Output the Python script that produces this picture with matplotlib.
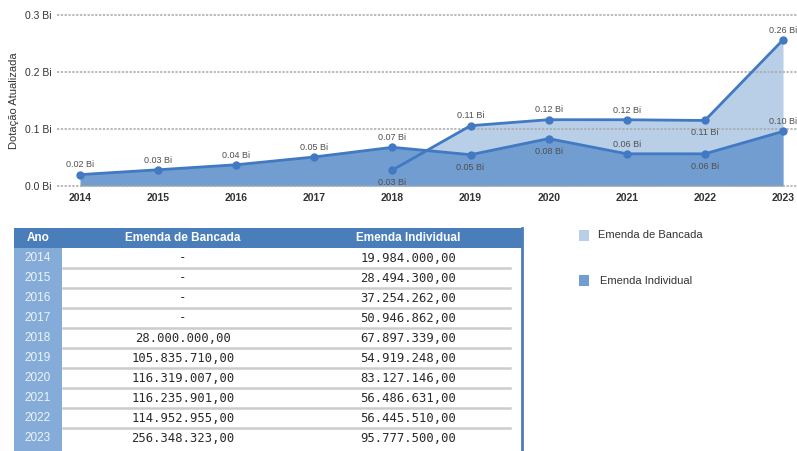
import numpy as np
import matplotlib.pyplot as plt
from matplotlib.patches import Rectangle

# ---- data ----
anos = [2014, 2015, 2016, 2017, 2018, 2019, 2020, 2021, 2022, 2023]
individual = [19984000.00, 28494300.00, 37254262.00, 50946862.00, 67897339.00,
              54919248.00, 83127146.00, 56486631.00, 56445510.00, 95777500.00]
bancada_anos = [2018, 2019, 2020, 2021, 2022, 2023]
bancada = [28000000.00, 105835710.00, 116319007.00, 116235901.00,
           114952955.00, 256348323.00]

# label placement (above / below the point)
pos_ind = ["a", "a", "a", "a", "a", "b", "b", "a", "b", "a"]
pos_ban = ["b", "a", "a", "a", "b", "a"]

def fmt_br(v):
    s = f"{v:,.2f}"
    return s.replace(",", "X").replace(".", ",").replace("X", ".")

LINE = "#4179c3"
FILL_IND = "#719dd0"
FILL_BAN = "#b9cfe8"
HEAD = "#4a7ebb"
YEARCOL = "#85acd8"

plt.rcParams['font.family'] = ['Liberation Sans Narrow', 'Liberation Sans', 'DejaVu Sans']

W, H = 797, 451
fig = plt.figure(figsize=(W / 100, H / 100), dpi=100)

# ---- area chart ----
ax = fig.add_axes([57 / W, 1 - 186 / H, 1 - 57 / W, (186 - 15) / H])
ind_bi = np.array(individual) / 1e9
ban_bi = np.array(bancada) / 1e9

ax.fill_between(bancada_anos, 0, ban_bi, color=FILL_BAN, lw=0, zorder=1)
ax.fill_between(anos, 0, ind_bi, color=FILL_IND, lw=0, zorder=2)
ax.plot(bancada_anos, ban_bi, color=LINE, lw=2, marker="o", ms=5, zorder=4)
ax.plot(anos, ind_bi, color=LINE, lw=2, marker="o", ms=5, zorder=4)

for x, v, p in zip(anos, ind_bi, pos_ind):
    dy = 7 if p == "a" else -9
    ax.annotate(f"{v:.2f} Bi", (x, v), xytext=(0, dy), textcoords="offset points",
                ha="center", va="center", fontsize=6.5, color="#505050", zorder=5)
for x, v, p in zip(bancada_anos, ban_bi, pos_ban):
    dy = 7 if p == "a" else -9
    ax.annotate(f"{v:.2f} Bi", (x, v), xytext=(0, dy), textcoords="offset points",
                ha="center", va="center", fontsize=6.5, color="#505050", zorder=5)

ax.set_xlim(2014 - 23 * 9 / 703, 2023 + 14 * 9 / 703)
ax.set_ylim(0, 0.3)
ax.set_yticks([0, 0.1, 0.2, 0.3])
ax.set_yticklabels(["0.0 Bi", "0.1 Bi", "0.2 Bi", "0.3 Bi"])
ax.set_xticks(anos)
ax.tick_params(length=0, labelsize=7.5, colors="#333333")
ax.tick_params(axis="x", pad=5)
ax.tick_params(axis="y", pad=4)
for lab in ax.get_xticklabels():
    lab.set_fontweight("bold")
for y in [0, 0.1, 0.2, 0.3]:
    ax.axhline(y, color="#a8a8a8", lw=1.1, ls=(0, (1.5, 1)), zorder=3, clip_on=False)
for s in ax.spines.values():
    s.set_visible(False)
ax.set_ylabel("Dotação Atualizada", fontsize=8, color="#333333", labelpad=4)
ax.patch.set_alpha(0)

# ---- table ----
tb = fig.add_axes([0, 0, 1, 1])
tb.set_xlim(0, W)
tb.set_ylim(H, 0)
tb.axis("off")

left, right, top, hh, rh = 14, 523, 228, 20, 20
tb.add_patch(Rectangle((left, top), right - left, hh, color=HEAD, lw=0))
tb.add_patch(Rectangle((left, top + hh), 48, H - top - hh, color=YEARCOL, lw=0))
tb.plot([right - 1, right - 1], [top, H], color=HEAD, lw=2)
tb.text(38, top + hh / 2, "Ano", color="white", fontweight="bold",
        fontsize=8.5, ha="center", va="center", family=["Liberation Sans", "DejaVu Sans"])
tb.text(183, top + hh / 2, "Emenda de Bancada", color="white", fontweight="bold",
        fontsize=8.5, ha="center", va="center", family=["Liberation Sans", "DejaVu Sans"])
tb.text(408, top + hh / 2, "Emenda Individual", color="white", fontweight="bold",
        fontsize=8.5, ha="center", va="center", family=["Liberation Sans", "DejaVu Sans"])

ban_map = dict(zip(bancada_anos, bancada))
for i, (ano, v) in enumerate(zip(anos, individual)):
    yc = top + hh + i * rh + rh / 2
    tb.text(38, yc, str(ano), color="#eef3fa", fontsize=8.5, ha="center",
            va="center", family=["Liberation Sans", "DejaVu Sans"])
    b = fmt_br(ban_map[ano]) if ano in ban_map else "-"
    tb.text(183, yc, b, color="#2a2a2a", fontsize=8.8, ha="center", va="center",
            family=["DejaVu Sans Mono"])
    tb.text(408, yc, fmt_br(v), color="#2a2a2a", fontsize=8.8, ha="center",
            va="center", family=["DejaVu Sans Mono"])
    if i < len(anos) - 1:
        yl = top + hh + (i + 1) * rh
        tb.plot([63, 510], [yl, yl], color="#cccccc", lw=1.8)

# ---- legend ----
tb.add_patch(Rectangle((579, 230), 10, 11, color=FILL_BAN, lw=0))
tb.add_patch(Rectangle((579, 275), 10, 11, color=FILL_IND, lw=0))
tb.text(598, 235.5, "Emenda de Bancada", fontsize=8, color="#333333", va="center")
tb.text(600, 280.5, "Emenda Individual", fontsize=8, color="#333333", va="center")

fig.savefig("out.png", dpi=100)
